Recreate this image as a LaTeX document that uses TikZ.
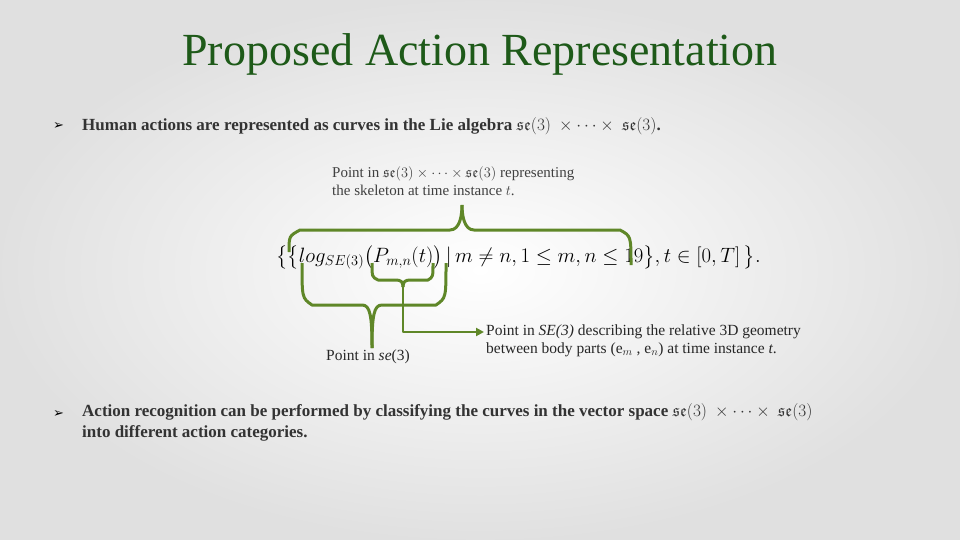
\documentclass[tikz,border=0pt]{standalone}
\usepackage{fontspec}
\setmainfont{Liberation Serif}
\newfontfamily\symfont{DejaVu Sans}
\usepackage{amsmath,amssymb}
\usetikzlibrary{arrows.meta}
\definecolor{titlegreen}{RGB}{30,90,25}
\definecolor{brace}{RGB}{95,135,40}
\begin{document}
\begin{tikzpicture}[x=1pt,y=-1pt,
  br/.style={draw=brace,line width=3pt,line cap=butt,line join=round},
  lbl/.style={anchor=west,inner sep=0pt,font=\fontsize{15.5}{18}\selectfont,text=black!85}]
\shade[inner color=white,outer color=black!12] (0,0) rectangle (960,540);
\useasboundingbox (0,0) rectangle (960,540);
\node[text=titlegreen,font=\fontsize{46}{50}\selectfont] (title) at (480,54) {Proposed Action Representation};
\node[anchor=west,inner sep=0pt,font=\symfont\fontsize{13}{15}\selectfont] (b1) at (53,126) {➢};
\node[lbl,font=\fontsize{17}{20}\selectfont\bfseries,text=black!80] (t1) at (82,126) {Human actions are represented as curves in the Lie algebra $\mathfrak{se}(3)\ \times\cdots\times\ \mathfrak{se}(3)$.};
\node[lbl,text=black!75,align=left,font=\fontsize{15}{18}\selectfont] (t2) at (332,181) {Point in $\mathfrak{se}(3)\times\cdots\times\mathfrak{se}(3)$ representing\\the skeleton at time instance $t$.};
\node[anchor=west,inner sep=0pt,font=\fontsize{19.5}{23}\selectfont] (eq) at (276,257) {$\bigl\{\bigl\{log_{SE(3)}\bigl(P_{m,n}(t)\bigr)\,|\,m\neq n,1\le m,n\le 19\bigr\},t\in[0,T]\,\bigr\}.$};
% top brace
\draw[br] (289,252) .. controls (289,236) .. (300,230) -- (450,230) .. controls (460,230) and (462,215) .. (462,205);
\draw[br] (462,205) .. controls (462,215) and (464,230) .. (474,230) -- (620,230) .. controls (631,236) .. (631,265);
% bottom big brace
\draw[br] (302,263) .. controls (302,298) .. (312,305) -- (362,305) .. controls (370,305) and (372,315) .. (372,348);
\draw[br] (372,348) .. controls (372,315) and (374,305) .. (382,305) -- (436,305) .. controls (446,298) .. (446,263);
% small brace
\draw[br] (372,263) .. controls (372,277) .. (378,280) -- (396,280) .. controls (401,280) and (403,282) .. (403,287);
\draw[br] (403,287) .. controls (403,282) and (405,280) .. (410,280) -- (428,280) .. controls (433,277) .. (433,263);
\coordinate (ar) at (484,332);
\draw[br,line width=2.5pt,-{Triangle[length=8pt,width=8pt]}] (403,282) -- (403,332) -- (ar);
\node[lbl] (l1) at (326,357) {Point in $\mathit{se}$(3)};
\node[lbl,align=left] (l2) at (486,341) {Point in \textit{SE(3)} describing the relative 3D geometry\\ between body parts (e$_m$ , e$_n$) at time instance \textit{t}.};
\node[anchor=west,inner sep=0pt,font=\symfont\fontsize{13}{15}\selectfont] (b2) at (53,414) {➢};
\node[lbl,font=\fontsize{17}{21}\selectfont\bfseries,text=black!80,align=left,anchor=north west] (t3) at (82,403) {Action recognition can be performed by classifying the curves in the vector space $\mathfrak{se}(3)\ \times\cdots\times\ \mathfrak{se}(3)$\\into different action categories.};
\end{tikzpicture}
\end{document}
